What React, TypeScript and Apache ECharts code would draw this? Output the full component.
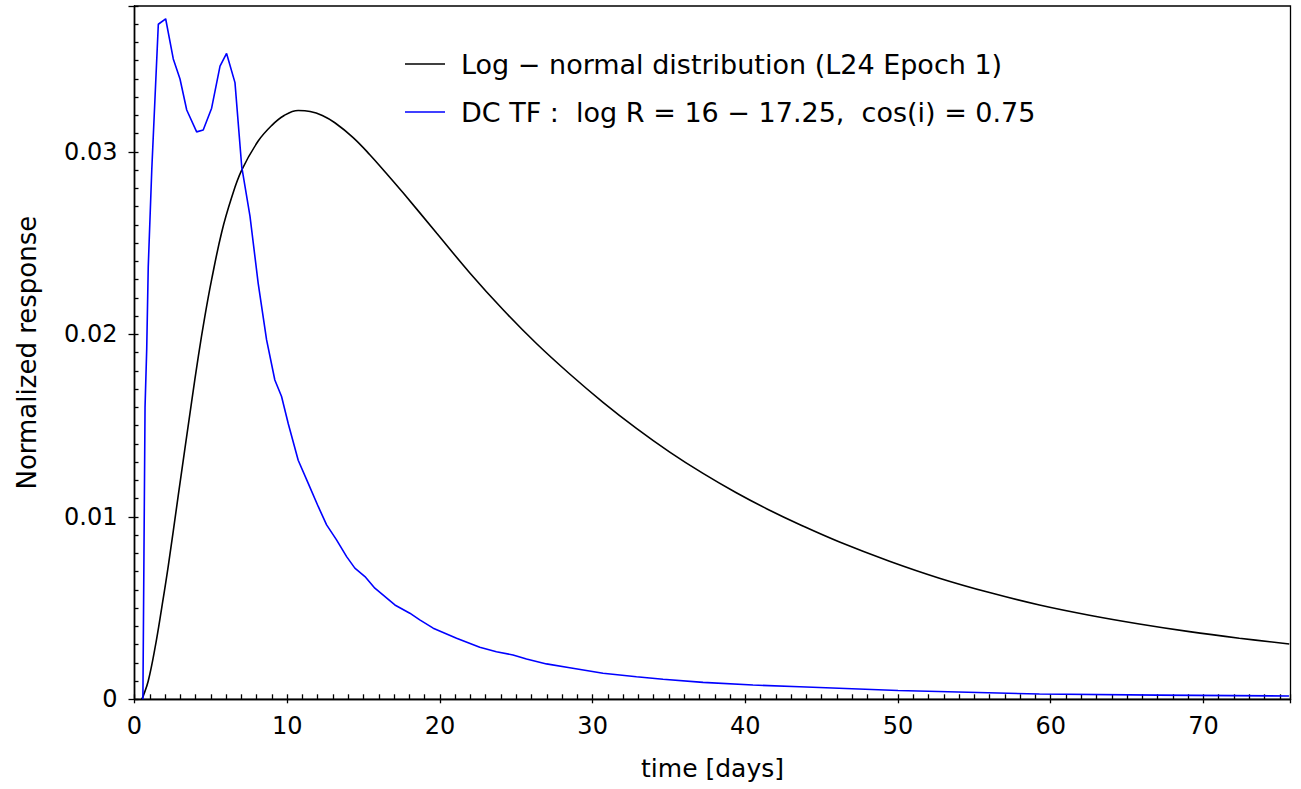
import React, { useEffect, useRef } from "react";
import * as echarts from "echarts";

const FONT = "DejaVu Sans";

const xTickLabels = ["0", "10", "20", "30", "40", "50", "60", "70"];
const yTickLabels = ["0", "0.01", "0.02", "0.03"];

const blackName = "Log \u2212 normal distribution (L24 Epoch 1)";
const blueName = "DC TF :  log R = 16 \u2212 17.25,  cos(i) = 0.75";

const blackDays = [
  0.47, 0.58, 0.9, 1.34, 1.78, 2.21, 2.87, 3.74, 4.18, 4.61, 5.05, 5.71, 6.36,
  7.02, 8.1, 8.98, 9.8, 10.72, 11.5, 12.3, 13.12, 14.3, 15.41, 16.5, 17.59,
  19.78, 21.96, 24.14, 26.32, 28.5, 30.68, 32.87, 35.05, 37.23, 39.41, 41.59,
  43.55, 46.17, 49.44, 52.71, 55.99, 59.26, 62.53, 65.8, 69.08, 72.35, 75.62,
];
const blackValues = [
  0, 0.0002, 0.001, 0.0028, 0.005, 0.0073, 0.0112, 0.0163, 0.0188, 0.021,
  0.023, 0.0256, 0.0275, 0.029, 0.0306, 0.03145, 0.032, 0.03227, 0.03222,
  0.032, 0.0316, 0.0308, 0.02985, 0.02882, 0.02776, 0.02556, 0.02337, 0.02135,
  0.0195, 0.01783, 0.01628, 0.01485, 0.01355, 0.01238, 0.01132, 0.01036,
  0.00958, 0.00862, 0.00757, 0.00664, 0.00585, 0.00517, 0.00461, 0.00413,
  0.00371, 0.00335, 0.00303,
];

const blueDays = [
  0.55, 0.62, 0.69, 0.8, 0.9, 1.13, 1.56, 2.04, 2.54, 2.98, 3.42, 4.07, 4.5,
  5.05, 5.6, 6.03, 6.58, 7.02, 7.56, 8.1, 8.65, 9.19, 9.63, 10.07, 10.72, 11.37,
  12.03, 12.58, 13.23, 13.89, 14.43, 15.09, 15.74, 17.05, 18.03, 18.68, 19.56,
  21.09, 22.61, 23.7, 24.79, 25.67, 26.98, 28.5, 30.68, 32.87, 34.61, 37.23,
  40.5, 43.55, 50.0, 59.26, 67.0, 75.6,
];
const blueValues = [
  0, 0.008, 0.016, 0.0192, 0.0237, 0.029, 0.037, 0.0373, 0.0351, 0.034, 0.0323,
  0.0311, 0.0312, 0.0324, 0.0347, 0.0354, 0.0338, 0.0292, 0.0265, 0.0228,
  0.0197, 0.0175, 0.0166, 0.0151, 0.0131, 0.01185, 0.01057, 0.00956, 0.00874,
  0.00782, 0.00719, 0.00673, 0.00609, 0.00517, 0.00472, 0.00435, 0.0039,
  0.00335, 0.00285, 0.00261, 0.00243, 0.00221, 0.00194, 0.00173, 0.00143,
  0.00124, 0.0011, 0.00093, 0.00078, 0.00069, 0.00048, 0.00029, 0.00023,
  0.00018,
];

const X_MAX = 75.7;
const Y_MAX = 0.038;

export default function App() {
  const ref = useRef<HTMLDivElement>(null);
  useEffect(() => {
    document.body.style.margin = "0";
    if (!ref.current) return;
    const chart = echarts.init(ref.current, null, { renderer: "svg" });
    const axisLineStyle = { color: "#000", width: 1.3 };
    const tickText = { color: "#000", fontFamily: FONT, fontSize: 24 };
    chart.setOption({
      animation: false,
      backgroundColor: "#fff",
      grid: {
        left: 134.5,
        right: 10.5,
        top: 6,
        bottom: 89.7,
        show: true,
        borderColor: "#000",
        borderWidth: 1.3,
        containLabel: false,
      },
      legend: {
        orient: "vertical",
        left: 405,
        top: 50,
        padding: 0,
        icon: "rect",
        itemWidth: 40,
        itemHeight: 1.6,
        itemGap: 20,
        data: [blackName, blueName],
        textStyle: {
          color: "#000",
          fontFamily: FONT,
          fontSize: 27,
          lineHeight: 28,
          padding: [0, 0, 0, 11],
        },
      },
      xAxis: [
        {
          type: "value",
          min: 0,
          max: X_MAX,
          interval: 10,
          position: "bottom",
          axisLine: { show: true, lineStyle: axisLineStyle },
          axisTick: { show: true, inside: false, length: 4, lineStyle: axisLineStyle },
          axisLabel: {
            ...tickText,
            margin: 15,
            formatter: (v: number) => {
              const i = Math.round(v / 10);
              return Math.abs(v - i * 10) < 1e-6 ? xTickLabels[i] ?? "" : "";
            },
          },
          splitLine: { show: false },
          name: "time [days]",
          nameLocation: "middle",
          nameGap: 57,
          nameTextStyle: { color: "#000", fontFamily: FONT, fontSize: 25 },
        },
        {
          type: "value",
          min: 0,
          max: X_MAX,
          interval: 1,
          position: "bottom",
          axisLine: { show: true, lineStyle: axisLineStyle },
          axisTick: { show: true, inside: true, length: 5, lineStyle: axisLineStyle },
          axisLabel: { show: false },
          splitLine: { show: false },
        },
      ],
      yAxis: [
        {
          type: "value",
          min: 0,
          max: Y_MAX,
          interval: 0.01,
          position: "left",
          axisLine: { show: true, lineStyle: axisLineStyle },
          axisTick: { show: true, inside: false, length: 6, lineStyle: axisLineStyle },
          axisLabel: {
            ...tickText,
            margin: 17,
            formatter: (v: number) => {
              const i = Math.round(v / 0.01);
              return Math.abs(v - i * 0.01) < 1e-9 ? yTickLabels[i] ?? "" : "";
            },
          },
          splitLine: { show: false },
          name: "Normalized response",
          nameLocation: "middle",
          nameGap: 95,
          nameTextStyle: { color: "#000", fontFamily: FONT, fontSize: 26 },
        },
        {
          type: "value",
          min: 0,
          max: Y_MAX,
          interval: 0.001,
          position: "left",
          axisLine: { show: true, lineStyle: axisLineStyle },
          axisTick: { show: true, inside: true, length: 4, lineStyle: axisLineStyle },
          axisLabel: { show: false },
          splitLine: { show: false },
        },
      ],
      series: [
        {
          name: blackName,
          type: "line",
          xAxisIndex: 0,
          yAxisIndex: 0,
          symbol: "none",
          smooth: 0.4,
          color: "#000",
          lineStyle: { color: "#000", width: 1.6 },
          data: blackDays.map((d, i) => [d, blackValues[i]]),
        },
        {
          name: blueName,
          type: "line",
          xAxisIndex: 0,
          yAxisIndex: 0,
          symbol: "none",
          color: "#0000ff",
          lineStyle: { color: "#0000ff", width: 1.6 },
          data: blueDays.map((d, i) => [d, blueValues[i]]),
        },
      ],
    });
    return () => chart.dispose();
  }, []);
  return <div ref={ref} style={{ width: 1301, height: 789 }} />;
}
